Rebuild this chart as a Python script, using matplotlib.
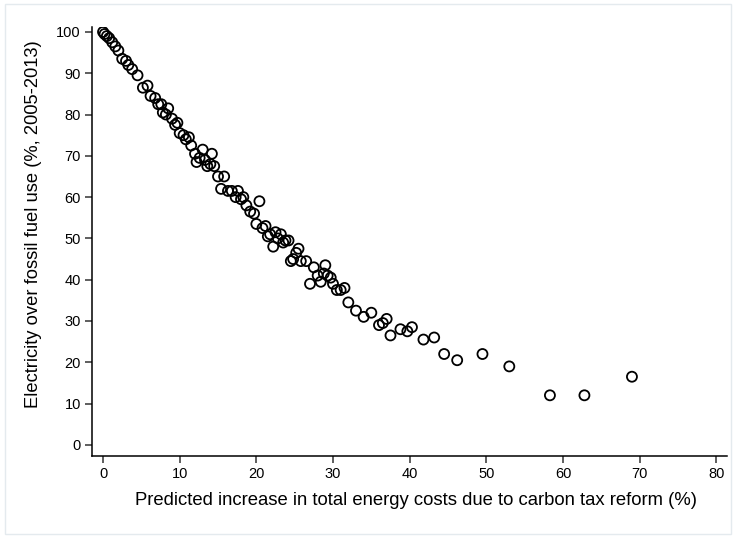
import matplotlib.pyplot as plt
from matplotlib.patches import Rectangle

plt.rcParams['font.family'] = ['Liberation Sans', 'DejaVu Sans']

# predicted increase in energy costs (%) and electricity share of fossil use (%)
custo = [0, 0.2, 0.5, 0.8, 1.2, 1.6, 2.0, 2.5, 3.0, 3.3, 3.8, 4.5, 5.2, 5.8, 6.2,
         6.8, 7.2, 7.6, 7.8, 8.2, 8.5, 9.0, 9.4, 9.7, 10.0, 10.5, 10.8, 11.2, 11.5,
         12.0, 12.2, 12.6, 13.0, 13.3, 13.6, 14.0, 14.2, 14.5, 15.0, 15.4, 15.8,
         16.3, 16.8, 17.3, 17.6, 18.0, 18.3, 18.7, 19.2, 19.7, 20.0, 20.4, 20.8,
         21.2, 21.5, 21.8, 22.2, 22.5, 22.8, 23.2, 23.5, 23.8, 24.2, 24.5, 24.8,
         25.2, 25.5, 25.8, 26.5, 27.0, 27.5, 28.0, 28.4, 28.8, 29.0, 29.3, 29.7,
         30.0, 30.5, 31.0, 31.5, 32.0, 33.0, 34.0, 35.0, 36.0, 36.5, 37.0, 37.5,
         38.8, 39.7, 40.3, 41.8, 43.2, 44.5, 46.2, 49.5, 53.0, 58.3, 62.8, 69.0]
eletr = [100, 99.5, 99, 98.5, 97.5, 96.5, 95.5, 93.5, 93, 92, 91, 89.5, 86.5, 87,
         84.5, 84, 82.5, 82.5, 80.5, 80, 81.5, 79, 77.5, 78, 75.5, 75, 74, 74.5,
         72.5, 70.5, 68.5, 69.5, 71.5, 69, 67.5, 68, 70.5, 67.5, 65, 62, 65, 61.5,
         61.5, 60, 61.5, 59.5, 60, 58, 56.5, 56, 53.5, 59, 52.5, 53, 50.5, 51, 48,
         51.5, 50, 51, 49, 49.5, 49.5, 44.5, 45, 46.5, 47.5, 44.5, 44.5, 39, 43,
         41, 39.5, 41.5, 43.5, 41, 40.5, 39, 37.5, 37.5, 38, 34.5, 32.5, 31, 32,
         29, 29.5, 30.5, 26.5, 28, 27.5, 28.5, 25.5, 26, 22, 20.5, 22, 19, 12, 12,
         16.5]

xticks = [0, 10, 20, 30, 40, 50, 60, 70, 80]
yticks = [0, 10, 20, 30, 40, 50, 60, 70, 80, 90, 100]

fig = plt.figure(figsize=(7.35, 5.37), dpi=100)
ax = fig.add_axes([92/735, 1 - 456/537, (727 - 92)/735, (456 - 27)/537])

ax.scatter(custo, eletr, s=52, facecolors='none', edgecolors='black',
           linewidths=1.3, zorder=3)

ax.set_xlim(-1.44, 81.4)
ax.set_ylim(-2.7, 101.2)
ax.set_xticks(xticks)
ax.set_yticks(yticks)
ax.spines['top'].set_visible(False)
ax.spines['right'].set_visible(False)
for s in ['left', 'bottom']:
    ax.spines[s].set_linewidth(1.1)
ax.tick_params(direction='out', length=5, width=1.1, color='#333333',
               labelsize=10.5, pad=3)
ax.set_xlabel('Predicted increase in total energy costs due to carbon tax reform (%)',
              fontsize=13.3)
ax.set_ylabel('Electricity over fossil fuel use (%, 2005-2013)',
              fontsize=13.2)
ax.xaxis.set_label_coords(0.51, -0.085)
ax.yaxis.set_label_coords(-0.078, 0.54)

# moldura clara em volta da figura
fig.patches.append(Rectangle((5/735, 3/537), 726/735, 530/537,
                             transform=fig.transFigure, fill=False,
                             edgecolor='#e4eaee', lw=1))

plt.savefig('out.png', dpi=100)
